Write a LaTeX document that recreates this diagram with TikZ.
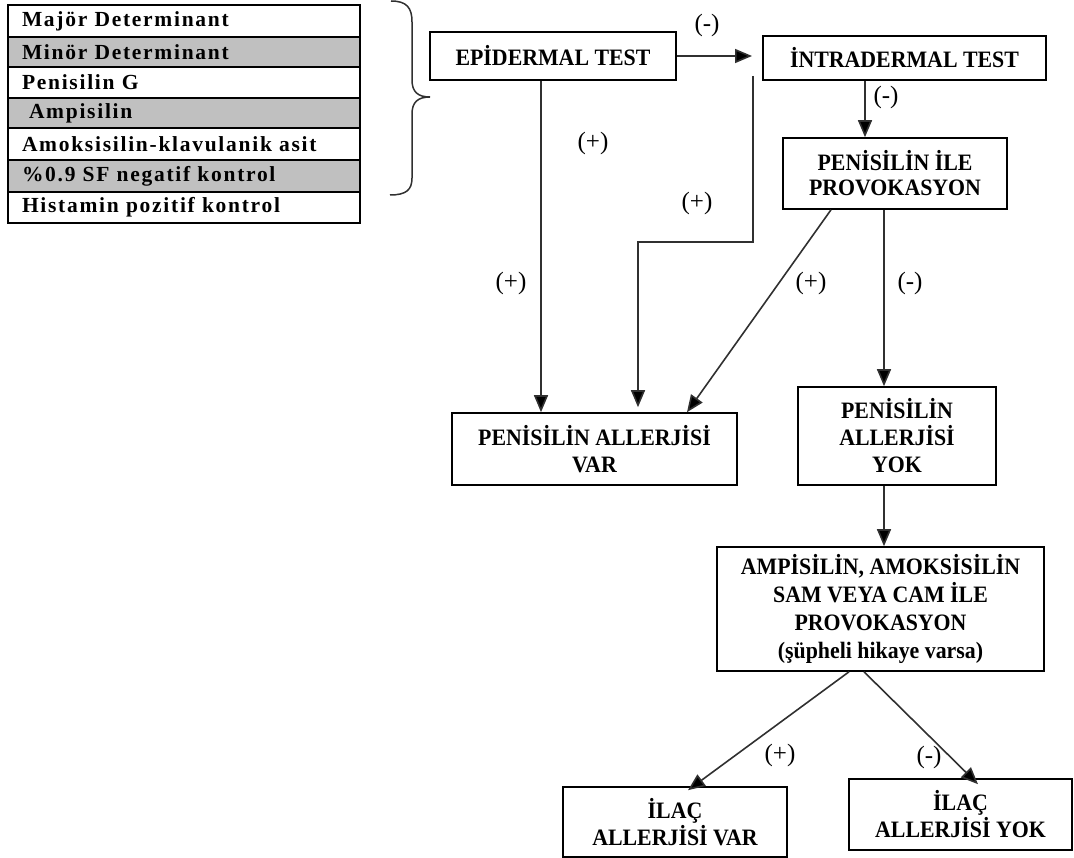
\documentclass[tikz,border=0pt]{standalone}
\usepackage{fontspec}
\setmainfont{Liberation Serif}
\newfontfamily\tabfont{Liberation Serif}[LetterSpace=8]
\newfontfamily\boxfont{Liberation Serif}[FakeStretch=0.93]
\usetikzlibrary{arrows.meta,calc}
\definecolor{rowgray}{HTML}{C0C0C0}
\definecolor{linegray}{HTML}{303030}
\tikzset{
  box/.style={draw=black, line width=1.6pt, rectangle, inner sep=0pt, align=center,
    font=\boxfont\bfseries\fontsize{23.5}{27}\selectfont},
  rowbox/.style={draw=black, line width=1.4pt, rectangle, inner ysep=0pt, inner xsep=14pt,
    text width=324pt, minimum width=352pt, align=left,
    font=\tabfont\bfseries\fontsize{21.5}{26}\selectfont},
  graybox/.style={rowbox, fill=rowgray},
  lbl/.style={inner sep=0pt, font=\fontsize{25}{28}\selectfont},
  arr/.style={draw=linegray, line width=1.6pt, -{Triangle[length=17pt,width=14pt,fill=black]}},
}
\begin{document}
\begin{tikzpicture}[x=1pt,y=-1pt]
\useasboundingbox (0,0) rectangle (1074,858);
% table
\node[rowbox,  minimum height=32pt] (r1) at (184,21)    {Majör Determinant};
\node[graybox, minimum height=30pt] (r2) at (184,52)    {Minör Determinant};
\node[rowbox,  minimum height=31pt] (r3) at (184,82.5)  {Penisilin G};
\node[graybox, minimum height=30pt] (r4) at (184,113)   {\hspace*{7pt}Ampisilin};
\node[rowbox,  minimum height=32pt] (r5) at (184,144)   {Amoksisilin-klavulanik asit};
\node[graybox, minimum height=32pt] (r6) at (184,176)   {\%0.9 SF negatif kontrol};
\node[rowbox,  minimum height=31pt] (r7) at (184,207.5) {Histamin pozitif kontrol};
% brace
\draw[draw=linegray, line width=1.5pt] (391,1) .. controls (407,1) and (412,8) .. (412,22)
  -- (412,80) .. controls (412,92) and (418,97) .. (430,97)
  .. controls (418,97) and (412,102) .. (412,114)
  -- (412,178) .. controls (412,190) and (406,195) .. (390,195);
% boxes
\node[box, minimum width=246pt, minimum height=48pt] (epi) at (553,56) {EPİDERMAL TEST};
\node[box, minimum width=283pt, minimum height=44pt] (intra) at (904.5,58) {İNTRADERMAL TEST};
\node[box, minimum width=224pt, minimum height=71pt] (pip) at (895,173.5) {PENİSİLİN İLE\\[-2pt]PROVOKASYON};
\node[box, minimum width=285pt, minimum height=72pt] (var) at (594.5,449) {PENİSİLİN ALLERJİSİ\\VAR};
\node[box, minimum width=198pt, minimum height=98pt] (yok) at (897,436) {PENİSİLİN\\ALLERJİSİ\\YOK};
\node[box, minimum width=327pt, minimum height=124pt] (amp) at (880.5,609) {AMPİSİLİN, AMOKSİSİLİN\\[1pt]SAM VEYA CAM İLE\\[1pt]PROVOKASYON\\[1pt](şüpheli hikaye varsa)};
\node[box, minimum width=224pt, minimum height=70pt] (ivar) at (675,822) {İLAÇ\\ALLERJİSİ VAR};
\node[box, minimum width=223pt, minimum height=71pt] (iyok) at (960.5,814.5) {İLAÇ\\ALLERJİSİ YOK};
% helper coordinates
\coordinate (ja) at (752,56);
\coordinate (jb) at (753,76);
\coordinate (jc) at (638,242);
% connectors
\draw[arr] (epi.east) -- (ja);
\draw[arr] (jb) -- (jb |- jc) -- (jc) -- ($(jc |- var.north)+(0,-5)$);
\draw[arr] ([xshift=-12pt]epi.south) -- ([xshift=-12pt]epi.south |- var.north);
\draw[arr] ([xshift=-39.5pt]intra.south) -- ([xshift=-39.5pt]intra.south |- pip.north);
\draw[arr] ([xshift=-64pt]pip.south) -- ([xshift=92.5pt]var.north);
\draw[arr] ([xshift=-11pt]pip.south) -- ([xshift=-11pt]pip.south |- yok.north);
\draw[arr] ([xshift=-13pt]yok.south) -- ([xshift=-13pt]yok.south |- amp.north);
\draw[arr] ([xshift=-31.5pt]amp.south) -- ([xshift=13pt,yshift=-4pt]ivar.north);
\draw[arr] ([xshift=-16.5pt]amp.south) -- ([xshift=17.5pt,yshift=-6pt]iyok.north);
% labels
\node[lbl] (l1) at (707,25) {(-)};
\node[lbl] (l2) at (886,97) {(-)};
\node[lbl] (l3) at (593,143) {(+)};
\node[lbl] (l4) at (697,203) {(+)};
\node[lbl] (l5) at (511,283) {(+)};
\node[lbl] (l6) at (811,283) {(+)};
\node[lbl] (l7) at (910,283) {(-)};
\node[lbl] (l8) at (780,755) {(+)};
\node[lbl] (l9) at (929,757) {(-)};
\end{tikzpicture}
\end{document}
